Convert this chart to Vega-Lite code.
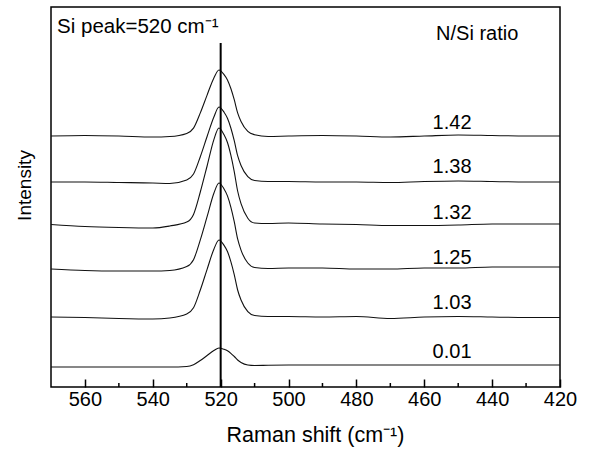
{
  "$schema": "https://vega.github.io/schema/vega-lite/v6.json",
  "autosize": {"type": "none"},
  "padding": {"left": 51, "top": 7, "right": 30, "bottom": 65},
  "width": 509,
  "height": 380,
  "config": {
    "font": "Liberation Sans",
    "view": {"stroke": "black", "strokeWidth": 1.5},
    "axis": {"grid": false, "domain": false, "labelColor": "black", "titleColor": "black", "titleFontWeight": "normal"}
  },
  "encoding": {
    "x": {"field": "x", "type": "quantitative", "scale": {"domain": [420, 570], "reverse": true, "nice": false, "zero": false},
      "axis": {"values": [560, 540, 520, 500, 480, 460, 440, 420], "labelFontSize": 20, "labelFlush": false, "tickSize": -8, "tickWidth": 1.5, "tickColor": "black", "labelPadding": 10, "title": "Raman shift (cm⁻¹)", "titleFontSize": 21.5, "titlePadding": 15, "titleX": 264}},
    "y": {"field": "y", "type": "quantitative", "scale": {"domain": [0, 380], "nice": false, "zero": false},
      "axis": {"labels": false, "ticks": false, "title": "Intensity", "titleFontSize": 19, "titlePadding": 17, "titleY": 178}}
  },
  "layer": [
    {
      "data": {"values": [
        {"x": 570, "r142": 251, "r138": 205, "r132": 162.5, "r125": 118, "r103": 70, "r001": 20},
        {"x": 560, "r142": 251.5, "r138": 205, "r132": 160.5, "r125": 116.5, "r103": 69.5, "r001": 20},
        {"x": 550, "r142": 251, "r138": 204.5, "r132": 159.5, "r125": 116, "r103": 68.5, "r001": 20},
        {"x": 540, "r142": 250, "r138": 204, "r132": 159, "r125": 116, "r103": 68, "r001": 20},
        {"x": 535, "r142": 250.5, "r138": 203.5, "r132": 161, "r125": 116.5, "r103": 69, "r001": 20},
        {"x": 530, "r142": 253.6, "r138": 207, "r132": 164.9, "r125": 120.4, "r103": 73, "r001": 20.5},
        {"x": 528, "r142": 258.9, "r138": 213, "r132": 172.6, "r125": 127.3, "r103": 79.2, "r001": 22.3},
        {"x": 526, "r142": 274.1, "r138": 230.3, "r132": 195, "r125": 147.1, "r103": 97, "r001": 26.5},
        {"x": 524, "r142": 291.9, "r138": 250.5, "r132": 221, "r125": 170.3, "r103": 117.7, "r001": 31.5},
        {"x": 522, "r142": 309.1, "r138": 270, "r132": 247.4, "r125": 193.7, "r103": 137.8, "r001": 36.5},
        {"x": 520.5, "r142": 317, "r138": 280, "r132": 259, "r125": 204, "r103": 147, "r001": 39},
        {"x": 519, "r142": 312.4, "r138": 274.8, "r132": 252.2, "r125": 198, "r103": 141.6, "r001": 37.7},
        {"x": 518, "r142": 307.1, "r138": 268.8, "r132": 244.5, "r125": 191.1, "r103": 135.5, "r001": 36.2},
        {"x": 517, "r142": 298.5, "r138": 259, "r132": 231.8, "r125": 179.9, "r103": 125.4, "r001": 33.7},
        {"x": 516, "r142": 287.3, "r138": 246.3, "r132": 215.4, "r125": 165.3, "r103": 112.4, "r001": 30.5},
        {"x": 515, "r142": 274.1, "r138": 231.3, "r132": 196, "r125": 148.1, "r103": 97, "r001": 27},
        {"x": 514, "r142": 265.5, "r138": 221.5, "r132": 183.3, "r125": 136.9, "r103": 87, "r001": 24.5},
        {"x": 512, "r142": 255.6, "r138": 210.3, "r132": 168.8, "r125": 124, "r103": 75.4, "r001": 22},
        {"x": 510, "r142": 252.3, "r138": 206.5, "r132": 164, "r125": 119.5, "r103": 71.5, "r001": 21.5},
        {"x": 506, "r142": 250.5, "r138": 205.5, "r132": 163.5, "r125": 118.5, "r103": 70.5, "r001": 21.8},
        {"x": 500, "r142": 251, "r138": 205.5, "r132": 164, "r125": 119, "r103": 70.5, "r001": 22},
        {"x": 490, "r142": 251.5, "r138": 205, "r132": 163, "r125": 119, "r103": 70, "r001": 22},
        {"x": 480, "r142": 251, "r138": 205, "r132": 162.5, "r125": 118, "r103": 70.5, "r001": 22},
        {"x": 470, "r142": 250, "r138": 204.5, "r132": 161.5, "r125": 118, "r103": 68.5, "r001": 22},
        {"x": 460, "r142": 251, "r138": 205.5, "r132": 161.5, "r125": 119, "r103": 70, "r001": 22},
        {"x": 450, "r142": 252, "r138": 206, "r132": 162, "r125": 119, "r103": 70.5, "r001": 22},
        {"x": 440, "r142": 251.5, "r138": 205.5, "r132": 163, "r125": 120, "r103": 70, "r001": 22},
        {"x": 430, "r142": 251, "r138": 205, "r132": 163, "r125": 120, "r103": 69.5, "r001": 22},
        {"x": 420, "r142": 251, "r138": 205, "r132": 163, "r125": 120, "r103": 69.5, "r001": 22}
      ]},
      "transform": [{"fold": ["r142", "r138", "r132", "r125", "r103", "r001"], "as": ["series", "y"]}],
      "mark": {"type": "line", "interpolate": "monotone", "color": "#111", "strokeWidth": 1.1},
      "encoding": {"detail": {"field": "series"}}
    },
    {
      "data": {"values": [{"x": 520, "y": 0, "y2": 344}]},
      "mark": {"type": "rule", "color": "black", "strokeWidth": 2},
      "encoding": {"y2": {"field": "y2"}}
    },
    {
      "data": {"values": [{"x": 550, "y": 0, "y2": 4}, {"x": 530, "y": 0, "y2": 4}, {"x": 510, "y": 0, "y2": 4}, {"x": 490, "y": 0, "y2": 4}, {"x": 470, "y": 0, "y2": 4}, {"x": 450, "y": 0, "y2": 4}, {"x": 430, "y": 0, "y2": 4}]},
      "mark": {"type": "rule", "color": "black", "strokeWidth": 1.5},
      "encoding": {"y2": {"field": "y2"}}
    },
    {
      "data": {"values": [
        {"x": 451.8, "y": 264, "label": "1.42"},
        {"x": 451.8, "y": 220, "label": "1.38"},
        {"x": 451.8, "y": 174, "label": "1.32"},
        {"x": 451.8, "y": 129, "label": "1.25"},
        {"x": 451.8, "y": 84, "label": "1.03"},
        {"x": 451.8, "y": 35, "label": "0.01"}
      ]},
      "mark": {"type": "text", "fontSize": 20, "color": "black", "align": "center", "baseline": "middle"},
      "encoding": {"text": {"field": "label"}}
    },
    {
      "data": {"values": [{"x": 568.2, "y": 360, "label": "Si peak=520 cm⁻¹"}]},
      "mark": {"type": "text", "fontSize": 20.5, "color": "black", "align": "left", "baseline": "middle"},
      "encoding": {"text": {"field": "label"}}
    },
    {
      "data": {"values": [{"x": 444.4, "y": 353, "label": "N/Si ratio"}]},
      "mark": {"type": "text", "fontSize": 20, "color": "black", "align": "center", "baseline": "middle"},
      "encoding": {"text": {"field": "label"}}
    }
  ]
}
